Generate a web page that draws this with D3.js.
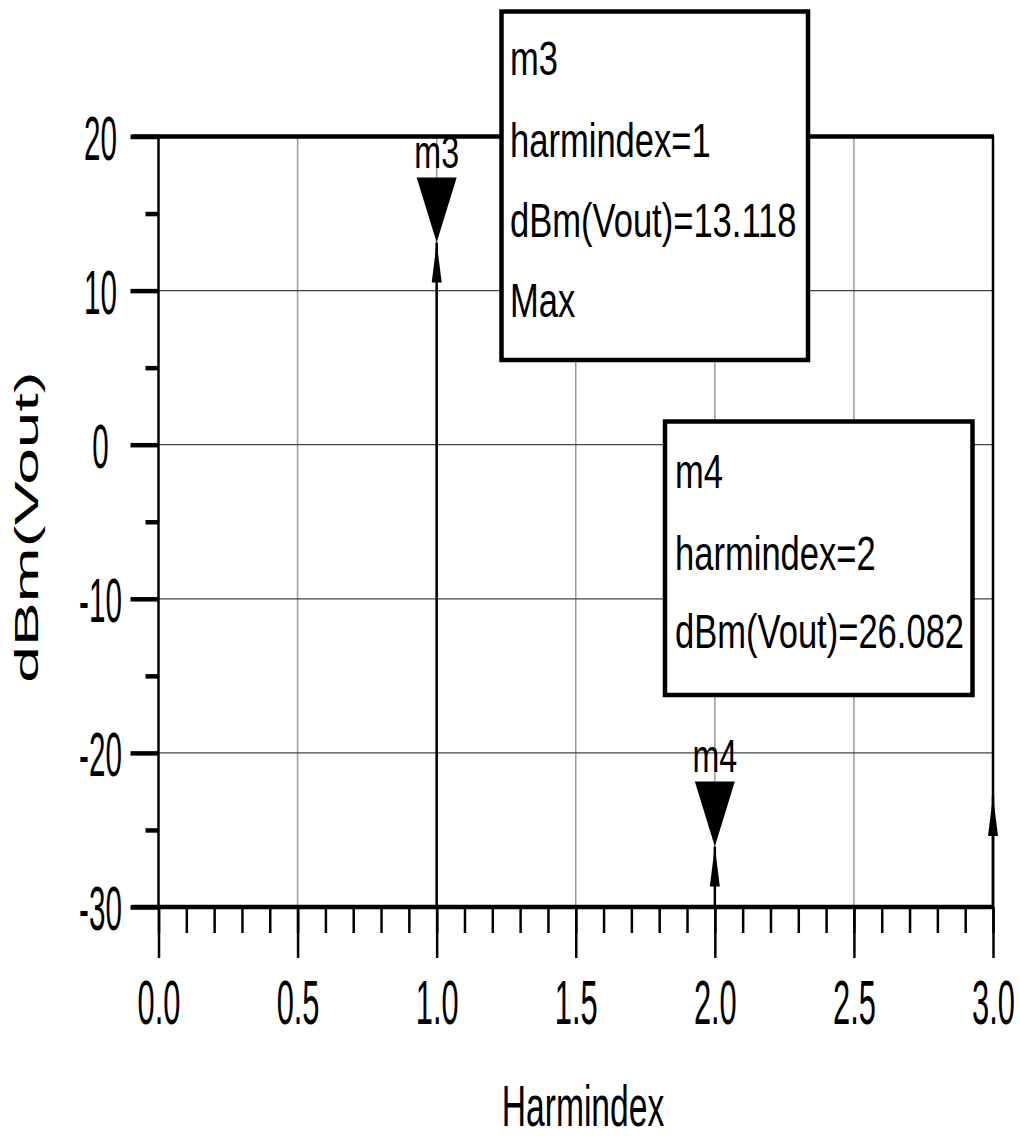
<!DOCTYPE html>
<html>
<head>
<meta charset="utf-8">
<script src="https://cdn.jsdelivr.net/npm/d3@7"></script>
<style>
  body { margin: 0; background: #fff; }
  text { font-family: "Liberation Sans", Arial, sans-serif; fill: #000; }
</style>
</head>
<body>
<div id="chart"></div>
<script>
// spectrum data (harmindex vs dBm(Vout))
var harmIndex = [1, 2, 3];
var dbmVout = [13.118, -26.082, -22.8];

// markers
var markerNames = ["m3", "m4"];
var markerHarm = [1, 2];
var markerValue = [13.118, -26.082];
var markerLines = [
  ["m3", "harmindex=1", "dBm(Vout)=13.118", "Max"],
  ["m4", "harmindex=2", "dBm(Vout)=26.082"]
];

var xTicks = [0.0, 0.5, 1.0, 1.5, 2.0, 2.5, 3.0];
var yTicks = [20, 10, 0, -10, -20, -30];

var W = 1020, H = 1142;
var margin = {top: 136.5, right: 27, bottom: 235, left: 158.5};

var x = d3.scaleLinear().domain([0, 3]).range([margin.left, W - margin.right]);
var y = d3.scaleLinear().domain([-30, 20]).range([H - margin.bottom, margin.top]);

var svg = d3.select("#chart").append("svg")
    .attr("width", W)
    .attr("height", H);

// grid
svg.append("g").selectAll("line")
    .data(xTicks.slice(1, -1))
    .enter().append("line")
    .attr("x1", function(d) { return x(d); })
    .attr("x2", function(d) { return x(d); })
    .attr("y1", y(20)).attr("y2", y(-30))
    .attr("stroke", "#999").attr("stroke-width", 1.5);
svg.append("g").selectAll("line")
    .data(yTicks.slice(1, -1))
    .enter().append("line")
    .attr("y1", function(d) { return y(d); })
    .attr("y2", function(d) { return y(d); })
    .attr("x1", x(0)).attr("x2", x(3))
    .attr("stroke", "#444").attr("stroke-width", 1.2);

// x axis: minor then major ticks
var xMinor = svg.append("g")
    .attr("transform", "translate(0," + y(-30) + ")")
    .call(d3.axisBottom(x).tickValues(d3.range(0, 31).map(function(i) { return i / 10; }))
        .tickSize(26).tickFormat(""));
xMinor.select(".domain").remove();
xMinor.selectAll("line").attr("stroke-width", 2.5);

var xMajor = svg.append("g")
    .attr("transform", "translate(0," + y(-30) + ")")
    .call(d3.axisBottom(x).tickValues(xTicks).tickSize(51).tickPadding(0)
        .tickFormat(d3.format(".1f")));
xMajor.select(".domain").remove();
xMajor.selectAll("line").attr("stroke-width", 2.5);
xMajor.selectAll("text")
    .attr("font-size", 63)
    .attr("y", 117).attr("dy", null)
    .attr("x", 0)
    .attr("transform", "scale(0.49,1)");

// y axis: minor then major ticks
var yMinor = svg.append("g")
    .attr("transform", "translate(" + x(0) + ",0)")
    .call(d3.axisLeft(y).tickValues([15, 5, -5, -15, -25]).tickSize(13).tickFormat(""));
yMinor.select(".domain").remove();
yMinor.selectAll("line").attr("stroke-width", 4.5);

var yMajor = svg.append("g")
    .attr("transform", "translate(" + x(0) + ",0)")
    .call(d3.axisLeft(y).tickValues(yTicks).tickSize(28)
        .tickFormat(function(d) { return String(d); }));
yMajor.select(".domain").remove();
yMajor.selectAll("line").attr("stroke-width", 4.5);
yMajor.selectAll("text")
    .attr("font-size", 63)
    .attr("text-anchor", "middle")
    .attr("x", -58 / 0.47)
    .attr("dy", "0.36em")
    .attr("transform", "scale(0.47,1)");

// frame
svg.append("line").attr("x1", x(0)).attr("x2", x(0)).attr("y1", y(20)).attr("y2", y(-30))
    .attr("stroke", "#000").attr("stroke-width", 2.5);
svg.append("line").attr("x1", x(3)).attr("x2", x(3)).attr("y1", y(20)).attr("y2", y(-30))
    .attr("stroke", "#000").attr("stroke-width", 2.5);
svg.append("line").attr("x1", x(0) - 27).attr("x2", x(3) + 1).attr("y1", y(20)).attr("y2", y(20))
    .attr("stroke", "#000").attr("stroke-width", 4.5);
svg.append("line").attr("x1", x(0) - 27).attr("x2", x(3) + 1).attr("y1", y(-30)).attr("y2", y(-30))
    .attr("stroke", "#000").attr("stroke-width", 4.5);

// spectral lines with arrow heads
var spec = harmIndex.map(function(h, i) { return {h: h, v: dbmVout[i]}; });
var sg = svg.append("g");
sg.selectAll("line").data(spec).enter().append("line")
    .attr("x1", function(d) { return x(d.h); })
    .attr("x2", function(d) { return x(d.h); })
    .attr("y1", y(-30))
    .attr("y2", function(d) { return y(d.v); })
    .attr("stroke", "#000").attr("stroke-width", 2.5);
sg.selectAll("path").data(spec).enter().append("path")
    .attr("d", function(d) {
        var cx = x(d.h), ty = y(d.v);
        return "M" + cx + "," + ty + "L" + (cx + 5) + "," + (ty + 40) + "L" + (cx - 5) + "," + (ty + 40) + "Z";
    })
    .attr("fill", "#000");

// marker triangles and names
var mk = markerNames.map(function(n, i) { return {n: n, h: markerHarm[i], v: markerValue[i]}; });
var mg = svg.append("g");
mg.selectAll("path").data(mk).enter().append("path")
    .attr("d", function(d) {
        var cx = x(d.h), ty = y(d.v);
        return "M" + cx + "," + ty + "L" + (cx + 20) + "," + (ty - 65) + "L" + (cx - 20) + "," + (ty - 65) + "Z";
    })
    .attr("fill", "#000");
mg.selectAll("text").data(mk).enter().append("text")
    .attr("transform", function(d) { return "translate(" + x(d.h) + "," + (y(d.v) - 75) + ") scale(0.7,1)"; })
    .attr("text-anchor", "middle")
    .attr("font-size", 46)
    .text(function(d) { return d.n; });

// marker readout boxes
var boxes = [
    {x0: 501.5, y0: 11.5, x1: 808, y1: 360, tx: 510, base: [75, 157, 237, 317]},
    {x0: 665, y0: 421.5, x1: 972.5, y1: 695, tx: 675, base: [488, 570, 648]}
];
boxes.forEach(function(b, i) {
    var g = svg.append("g");
    g.append("rect")
        .attr("x", b.x0).attr("y", b.y0)
        .attr("width", b.x1 - b.x0).attr("height", b.y1 - b.y0)
        .attr("fill", "#fff").attr("stroke", "#000").attr("stroke-width", 4.5);
    g.selectAll("text").data(markerLines[i]).enter().append("text")
        .attr("transform", function(d, j) { return "translate(" + b.tx + "," + b.base[j] + ") scale(0.72,1)"; })
        .attr("font-size", 48)
        .text(function(d) { return d; });
});

// axis titles
svg.append("text")
    .attr("transform", "translate(583,1126) scale(0.59,1)")
    .attr("text-anchor", "middle")
    .attr("font-size", 57)
    .text("Harmindex");
svg.append("text")
    .attr("transform", "translate(38,527) scale(1,2.0) rotate(-90)")
    .attr("text-anchor", "middle")
    .attr("font-size", 33)
    .text("dBm(Vout)");
</script>
</body>
</html>
